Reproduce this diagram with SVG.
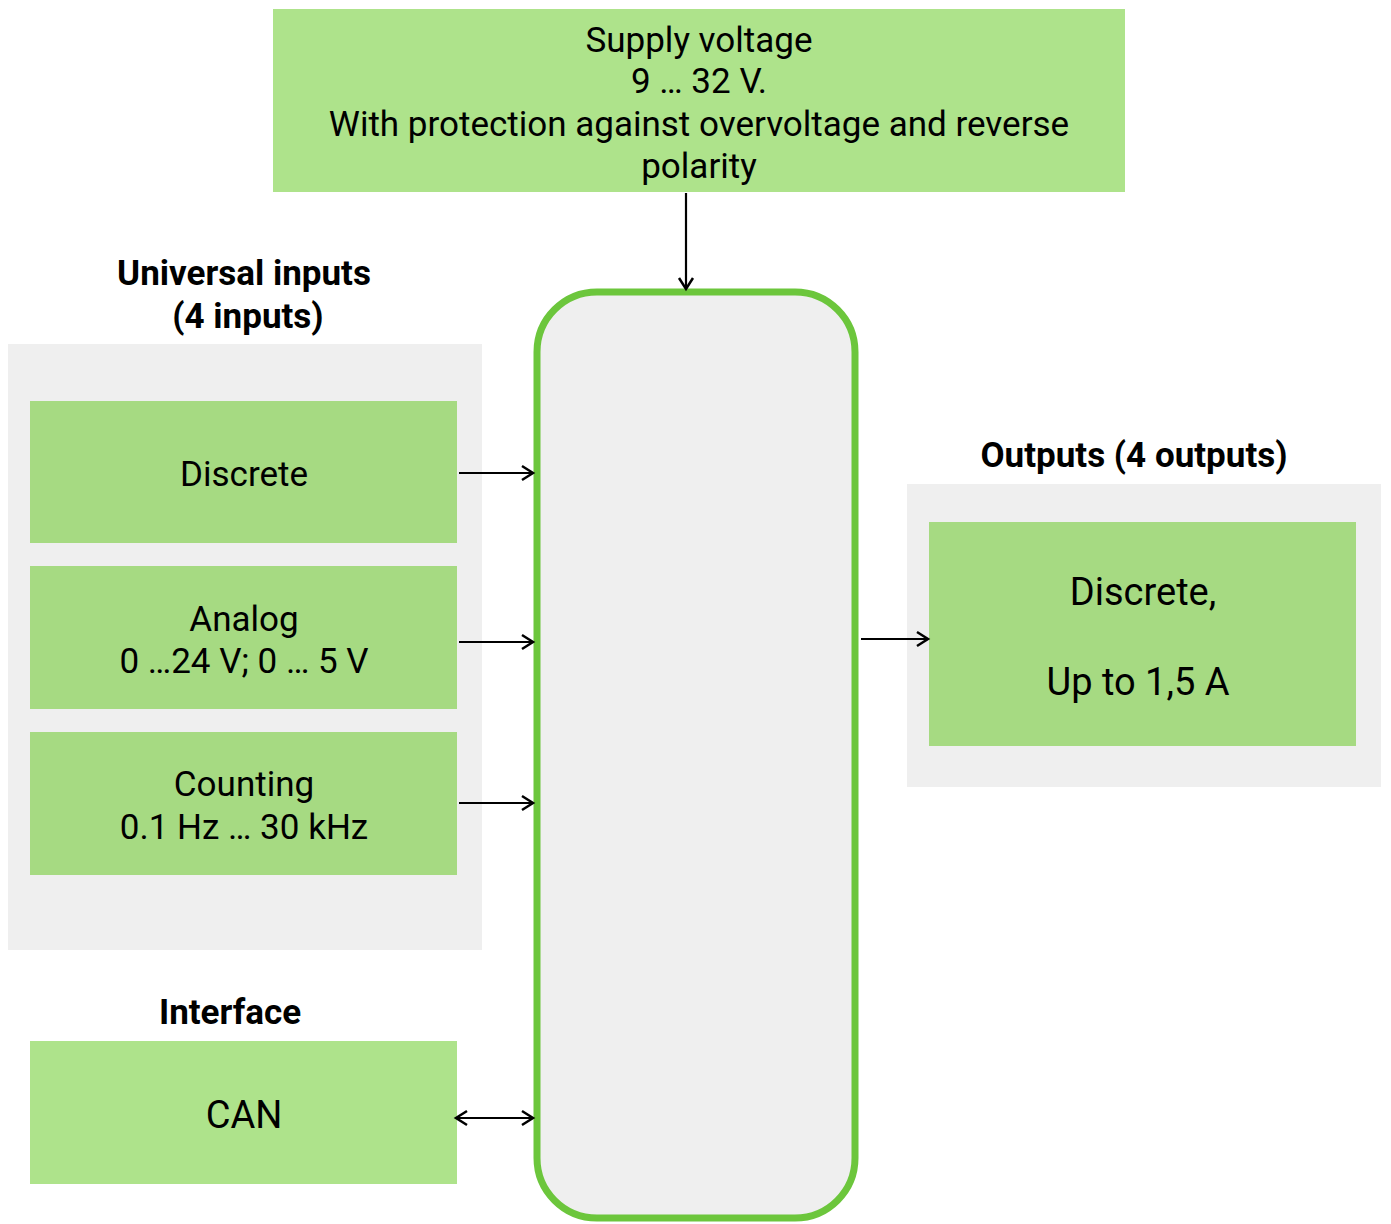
<svg xmlns="http://www.w3.org/2000/svg" width="1391" height="1224" viewBox="0 0 1391 1224">
<style>
text{font-family:Roboto,"Liberation Sans",sans-serif;fill:#000;text-anchor:middle}
.t{font-size:35px}
.b{font-size:38px}
.h{font-size:35px;font-weight:bold}
.lt{fill:#aee38b}
.gr{fill:#a6da82}
.panel{fill:#efefef}
.c{stroke:#000;stroke-width:2.2;fill:none}
</style>
<defs>
<marker id="ah" markerWidth="20" markerHeight="20" refX="15" refY="10" orient="auto-start-reverse" markerUnits="userSpaceOnUse">
<path d="M4,3 L15,10 L4,17" fill="none" stroke="#000" stroke-width="2.5"/>
</marker>
</defs>
<rect class="panel" x="8" y="344" width="474" height="606"/>
<rect class="panel" x="907" y="484" width="474" height="303"/>
<g id="supply">
<rect class="lt" x="273" y="9" width="852" height="183"/>
<text class="t" x="699" y="52">Supply voltage</text>
<text class="t" x="699" y="93">9 … 32 V.</text>
<text class="t" x="699" y="136">With protection against overvoltage and reverse</text>
<text class="t" x="699" y="178">polarity</text>
</g>
<g id="controller">
<rect x="537" y="292" width="318" height="926" rx="60" ry="60" fill="#efefef" stroke="#6cc63c" stroke-width="7"/>
</g>
<g id="inputs-title">
<text class="h" x="244" y="285">Universal inputs</text>
<text class="h" x="248" y="328">(4 inputs)</text>
</g>
<g id="discrete-in">
<rect class="gr" x="30" y="401" width="427" height="142"/>
<text class="t" x="244" y="486">Discrete</text>
</g>
<g id="analog">
<rect class="gr" x="30" y="566" width="427" height="143"/>
<text class="t" x="244" y="631">Analog</text>
<text class="t" x="244" y="673">0 …24 V; 0 … 5 V</text>
</g>
<g id="counting">
<rect class="gr" x="30" y="732" width="427" height="143"/>
<text class="t" x="244" y="796">Counting</text>
<text class="t" x="244" y="839">0.1 Hz … 30 kHz</text>
</g>
<g id="interface-title">
<text class="h" x="230" y="1024">Interface</text>
</g>
<g id="can">
<rect class="lt" x="30" y="1041" width="427" height="143"/>
<text class="b" x="244" y="1128">CAN</text>
</g>
<g id="outputs-title">
<text class="h" x="1134" y="467">Outputs (4 outputs)</text>
</g>
<g id="discrete-out">
<rect class="gr" x="929" y="522" width="427" height="224"/>
<text class="b" x="1143" y="605">Discrete,</text>
<text class="b" x="1138" y="695">Up to 1,5 A</text>
</g>
<g id="connectors">
<line class="c" x1="686" y1="193" x2="686" y2="289" marker-end="url(#ah)"/>
<line class="c" x1="459" y1="473" x2="533" y2="473" marker-end="url(#ah)"/>
<line class="c" x1="459" y1="642" x2="533" y2="642" marker-end="url(#ah)"/>
<line class="c" x1="459" y1="803" x2="533" y2="803" marker-end="url(#ah)"/>
<line class="c" x1="456" y1="1118" x2="533" y2="1118" marker-start="url(#ah)" marker-end="url(#ah)"/>
<line class="c" x1="861" y1="639" x2="928" y2="639" marker-end="url(#ah)"/>
</g>
</svg>
